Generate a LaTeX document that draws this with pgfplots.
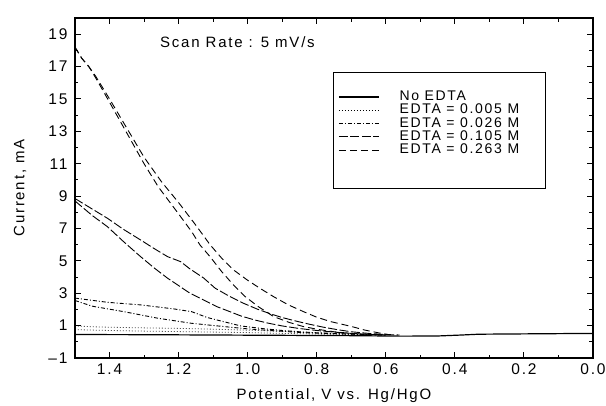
\documentclass[border=0pt]{standalone}
\usepackage{fontspec}
\setmainfont{Liberation Sans}[LetterSpace=12]
\usepackage{pgfplots}
\pgfplotsset{compat=1.18}

\begin{document}
\begin{tikzpicture}
\useasboundingbox (-75pt,-47pt) rectangle (531pt,358pt);
\begin{axis}[
  at={(0,0)}, anchor=south west,
  scale only axis, width=518pt, height=340pt,
  xmin=0, xmax=1.5, ymin=-1, ymax=20,
  x dir=reverse,
  axis line style={line width=1.2pt},
  xtick={0,0.2,0.4,0.6,0.8,1.0,1.2,1.4},
  xticklabels={0.0,0.2,0.4,0.6,0.8,1.0,1.2,1.4},
  minor xtick={0.1,0.3,0.5,0.7,0.9,1.1,1.3},
  ytick={-1,1,3,5,7,9,11,13,15,17,19},
  yticklabels={\textendash1,1,3,5,7,9,11,13,15,17,19},
  minor ytick={0,2,4,6,8,10,12,14,16,18},
  major tick length=6pt, minor tick length=3.5pt,
  tick style={line width=1pt, black},
  tick label style={font=\fontsize{15.5}{15.5}\selectfont},
  xticklabel style={yshift=-2pt},
  yticklabel style={xshift=-4pt},
  xlabel={Potential, V vs. Hg/HgO},
  ylabel={Current, mA},
  label style={font=\fontsize{15}{15}\selectfont},
  xlabel style={at={(axis description cs:0.5,0)}, anchor=center, yshift=-38pt},
  ylabel style={at={(axis description cs:-0.106,0.5)}, anchor=center},
  legend style={at={(axis cs:0.738,15.55)}, anchor=north west, draw=none, fill=none,
    font=\fontsize{14}{14}\selectfont, inner sep=0pt, column sep=20pt, row sep=0pt,
    nodes={inner sep=0pt, text height=10.3pt, text depth=3pt}},
  legend cell align=left,
  legend image code/.code={\draw[#1] (0pt,0pt) -- (40pt,0pt);},
]
% No EDTA
\addplot[black, line width=1.2pt] coordinates {
  (1.50,0.45) (1.30,0.44) (1.10,0.42) (0.90,0.40) (0.70,0.38) (0.55,0.35)
  (0.45,0.36) (0.38,0.42) (0.33,0.47) (0.20,0.49) (0.00,0.52)};
\addlegendentry{No EDTA}
% 0.005 M
\addplot[black, line width=0.8pt, dash pattern=on 0.6pt off 2.4pt] coordinates {
  (1.50,0.98) (1.45,0.93) (1.40,0.90) (1.30,0.86) (1.20,0.83) (1.10,0.78)
  (1.00,0.72) (0.90,0.64) (0.80,0.56) (0.70,0.49) (0.60,0.43)};
\addlegendentry{EDTA = 0.005 M}
\addplot[black, line width=0.8pt, dash pattern=on 0.6pt off 2.4pt, forget plot] coordinates {
  (1.50,0.75) (1.40,0.70) (1.30,0.66) (1.20,0.63) (1.10,0.60) (1.00,0.57)
  (0.90,0.52) (0.80,0.48) (0.70,0.45) (0.60,0.42)};
% 0.026 M
\addplot[black, line width=0.9pt, dash pattern=on 4pt off 2pt on 1pt off 2pt] coordinates {
  (1.50,2.70) (1.406,2.44) (1.31,2.28) (1.213,2.03) (1.162,1.86) (1.117,1.50)
  (1.02,0.98) (0.95,0.80) (0.90,0.70) (0.85,0.62) (0.80,0.56) (0.75,0.52)
  (0.70,0.48) (0.65,0.45) (0.60,0.42)};
\addlegendentry{EDTA = 0.026 M}
\addplot[black, line width=0.9pt, dash pattern=on 4pt off 2pt on 1pt off 2pt, forget plot] coordinates {
  (1.50,2.55) (1.45,2.20) (1.358,1.86) (1.261,1.46) (1.165,1.15) (1.068,0.94)
  (1.00,0.80) (0.95,0.72) (0.90,0.65) (0.85,0.58) (0.80,0.53) (0.70,0.47) (0.60,0.42)};
% 0.105 M
\addplot[black, line width=0.9pt, dash pattern=on 9pt off 2.5pt] coordinates {
  (1.50,8.85) (1.45,8.20) (1.406,7.63) (1.36,6.95) (1.31,6.29) (1.27,5.75)
  (1.232,5.26) (1.194,4.95) (1.167,4.50) (1.128,3.95) (1.094,3.31) (1.051,2.79)
  (1.012,2.38) (0.97,2.00) (0.93,1.70) (0.90,1.50) (0.86,1.28) (0.82,1.08)
  (0.78,0.90) (0.74,0.75) (0.70,0.62) (0.65,0.52) (0.60,0.45) (0.56,0.42)};
\addlegendentry{EDTA = 0.105 M}
\addplot[black, line width=0.9pt, dash pattern=on 9pt off 2.5pt, forget plot] coordinates {
  (1.50,8.70) (1.45,7.80) (1.406,7.11) (1.36,6.20) (1.31,5.26) (1.27,4.55)
  (1.232,3.93) (1.167,3.00) (1.128,2.59) (1.089,2.17) (1.05,1.85) (1.02,1.60)
  (0.98,1.35) (0.94,1.15) (0.90,0.98) (0.85,0.82) (0.80,0.70) (0.75,0.60)
  (0.70,0.52) (0.65,0.46) (0.60,0.42)};
% 0.263 M
\addplot[black, line width=0.9pt, dash pattern=on 7pt off 4pt] coordinates {
  (1.50,18.2) (1.48,17.5) (1.46,17.0) (1.44,16.4) (1.40,15.0) (1.35,13.2)
  (1.30,11.4) (1.25,9.9) (1.20,8.6) (1.15,7.2) (1.109,6.0) (1.075,5.16)
  (1.041,4.44) (1.00,3.80) (0.964,3.30) (0.925,2.79) (0.882,2.28) (0.838,1.86)
  (0.80,1.52) (0.76,1.25) (0.73,1.10) (0.70,0.95) (0.66,0.72) (0.62,0.55) (0.587,0.43)};
\addlegendentry{EDTA = 0.263 M}
\addplot[black, line width=0.9pt, dash pattern=on 7pt off 4pt, forget plot] coordinates {
  (1.50,18.2) (1.48,17.5) (1.46,17.0) (1.44,16.3) (1.40,14.8) (1.35,12.9)
  (1.30,11.0) (1.259,9.58) (1.20,7.9) (1.162,6.8) (1.138,5.98) (1.109,5.26)
  (1.075,4.33) (1.041,3.51) (1.007,2.79) (0.969,2.17) (0.925,1.56) (0.88,1.20)
  (0.84,0.95) (0.80,0.78) (0.75,0.62) (0.70,0.52) (0.65,0.46) (0.60,0.42)};
% legend frame and annotation
\draw[line width=0.8pt] (axis cs:0.752,16.66) rectangle (axis cs:0.138,9.5);
\node[anchor=base west, inner sep=0pt, font=\fontsize{15}{15}\selectfont]
  at (axis cs:1.254,18.19) {Scan Rate : 5 mV/s};
\end{axis}
\end{tikzpicture}
\end{document}
